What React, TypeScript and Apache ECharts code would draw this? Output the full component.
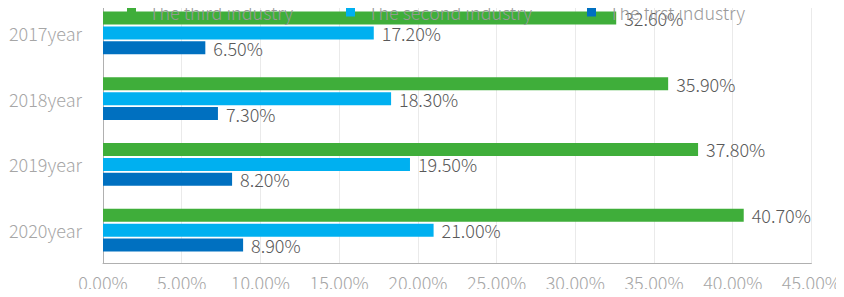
import React, { useEffect, useRef } from "react";
import * as echarts from "echarts";

const categories = ["2017year", "2018year", "2019year", "2020year"];
const thirdIndustry = [32.6, 35.9, 37.8, 40.7];
const secondIndustry = [17.2, 18.3, 19.5, 21.0];
const firstIndustry = [6.5, 7.3, 8.2, 8.9];
const seriesNames = ["The third industry", "The second industry", "The first industry"];

const FONT = "'Noto Sans CJK JP', 'Noto Sans', sans-serif";

export default function App() {
  const ref = useRef<HTMLDivElement>(null);
  useEffect(() => {
    const chart = echarts.init(ref.current!, null, { renderer: "svg" });
    const label = {
      show: true,
      position: "right" as const,
      distance: 8,
      color: "#595959",
      fontSize: 18,
      fontFamily: FONT,
      fontWeight: 300 as any,
      formatter: (p: any) => p.value.toFixed(2) + "%",
    };
    const mk = (name: string, data: number[], color: string) => ({
      name,
      type: "bar" as const,
      data,
      barWidth: 13,
      barGap: "15%",
      itemStyle: { color },
      label,
    });
    const legendAt = (name: string, left: number) => ({
      data: [name],
      left,
      top: 3,
      padding: 0,
      z: 10,
      itemWidth: 9,
      itemHeight: 9,
      icon: "rect",
      formatter: (n: string) => "  " + n,
      textStyle: {
        color: "#9a9a9a",
        fontSize: 18,
        fontFamily: FONT,
        fontWeight: 300 as any,
      },
    });
    chart.setOption({
      animation: false,
      textStyle: { fontFamily: FONT },
      legend: [
        legendAt(seriesNames[0], 127),
        legendAt(seriesNames[1], 346),
        legendAt(seriesNames[2], 587),
      ],
      grid: { left: 103, right: 32, top: 0, bottom: 34, containLabel: false },
      xAxis: {
        type: "value",
        min: 0,
        max: 45,
        interval: 5,
        axisLabel: {
          formatter: (v: number) => v.toFixed(2) + "%",
          color: "#a6a6a6",
          fontSize: 18,
          fontFamily: FONT,
          fontWeight: 300 as any,
          margin: 10,
        },
        axisLine: { show: true, lineStyle: { color: "#b0b0b0" } },
        axisTick: { show: false },
        splitLine: { show: true, lineStyle: { color: "#eaeaea" } },
      },
      yAxis: {
        type: "category",
        data: categories,
        inverse: true,
        axisLabel: {
          color: "#a6a6a6",
          fontSize: 18,
          fontFamily: FONT,
          fontWeight: 300 as any,
          margin: 21,
        },
        axisLine: { show: true, lineStyle: { color: "#b0b0b0" } },
        axisTick: { show: false },
      },
      series: [
        mk(seriesNames[0], thirdIndustry, "#3fae3a"),
        mk(seriesNames[1], secondIndustry, "#00b0f0"),
        mk(seriesNames[2], firstIndustry, "#0070c0"),
      ],
    });
    return () => chart.dispose();
  }, []);
  return <div ref={ref} style={{ width: 844, height: 297, margin: -8 }} />;
}
